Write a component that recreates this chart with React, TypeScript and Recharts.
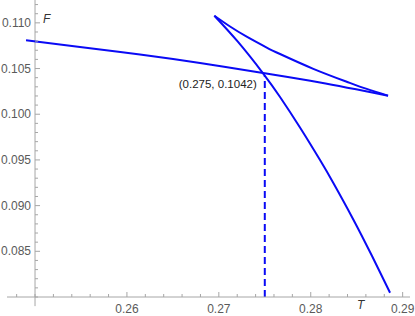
import { LineChart, Line, XAxis, YAxis, ReferenceLine } from 'recharts';

// small-black-hole branch
const T_SMALL = [0.24902, 0.25489, 0.26142, 0.26795, 0.27481, 0.28101, 0.28841];
const F_SMALL = [0.10809, 0.10736, 0.10654, 0.10561, 0.10451, 0.10347, 0.10203];

// intermediate branch (between the two cusps)
const T_MID = [0.26951, 0.27122, 0.27303, 0.27521, 0.27666, 0.28028, 0.28391, 0.28609, 0.28841];
const F_MID = [0.11078, 0.1096, 0.10849, 0.1073, 0.10659, 0.10497, 0.10356, 0.10277, 0.10203];

// large-black-hole branch
const T_LARGE = [0.26951, 0.27209, 0.27481, 0.27666, 0.27883, 0.28101, 0.28246, 0.28463, 0.28667, 0.28863];
const F_LARGE = [0.11078, 0.10791, 0.10448, 0.10189, 0.09855, 0.09499, 0.09248, 0.08849, 0.08448, 0.08047];

const T_CROSS = 0.275;
const F_CROSS = 0.1042;

const X_MAJOR = [0.26, 0.27, 0.28, 0.29];
const Y_MAJOR = [0.085, 0.09, 0.095, 0.1, 0.105, 0.11];

const X_DOMAIN: [number, number] = [0.24695, 0.2908];
const Y_DOMAIN: [number, number] = [0.08, 0.1125];
const X_ORIGIN = 0.25; // where the vertical axis crosses
const Y_BOTTOM = 0.079;

const toRows = (ts: number[], fs: number[]) => ts.map((T, i) => ({ T, F: fs[i] }));
const smallData = toRows(T_SMALL, F_SMALL);
const midData = toRows(T_MID, F_MID);
const largeData = toRows(T_LARGE, F_LARGE);

const xTicks: number[] = [];
for (let i = 124; i <= 145; i++) xTicks.push(+(i * 0.002).toFixed(3));
const yTicks: number[] = [];
for (let i = 80; i <= 112; i++) yTicks.push(+(i * 0.001).toFixed(3));

const W = 415;
const H = 316;
const MARGIN = { top: 0, right: 5, bottom: 0, left: 6 };
const Y_AXIS_W = 1;
const X_AXIS_H = 19;
const plotLeft = MARGIN.left + Y_AXIS_W;
const plotW = W - plotLeft - MARGIN.right;
const axisX = plotLeft + ((X_ORIGIN - X_DOMAIN[0]) / (X_DOMAIN[1] - X_DOMAIN[0])) * plotW;

const AXIS = '#a6a6a6';
const TICK_TEXT = '#5a5a5a';
const BLUE = '#0a0af5';
const FONT = '"Liberation Sans", Arial, sans-serif';

const isMajor = (v: number, list: number[]) => list.some((m) => Math.abs(m - v) < 1e-6);

const XTick = (props: any) => {
  const { x, y, payload } = props;
  const major = isMajor(payload.value, X_MAJOR);
  return (
    <g>
      <line x1={x} x2={x} y1={y} y2={y - (major ? 5 : 3)} stroke={AXIS} strokeWidth={1} />
      {major && (
        <text x={x} y={y + 16} textAnchor="middle" fill={TICK_TEXT} fontSize={12} fontFamily={FONT}>
          {payload.value.toFixed(2)}
        </text>
      )}
    </g>
  );
};

const YTick = (props: any) => {
  const { y, payload } = props;
  const major = isMajor(payload.value, Y_MAJOR);
  return (
    <g>
      <line x1={axisX} x2={axisX + (major ? 5 : 3)} y1={y} y2={y} stroke={AXIS} strokeWidth={1} />
      {major && (
        <text x={axisX - 4} y={y} dy={4} textAnchor="end" fill={TICK_TEXT} fontSize={12} fontFamily={FONT}>
          {payload.value.toFixed(3)}
        </text>
      )}
    </g>
  );
};

const PointLabel = (props: any) => {
  const { viewBox } = props;
  return (
    <text x={viewBox.x - 8} y={viewBox.y + 12} textAnchor="end" fill="#222" fontSize={11.5} fontFamily={FONT}>
      {`(${T_CROSS}, ${F_CROSS})`}
    </text>
  );
};

export default function App() {
  return (
    <div style={{ position: 'absolute', left: 0, top: 0, background: '#fff' }}>
      <LineChart width={W} height={H} margin={MARGIN}>
        <XAxis
          type="number"
          dataKey="T"
          domain={X_DOMAIN}
          allowDataOverflow
          ticks={xTicks}
          interval={0}
          height={X_AXIS_H}
          tickSize={0}
          tickMargin={0}
          tickLine={false}
          axisLine={{ stroke: AXIS }}
          tick={<XTick />}
        />
        <YAxis
          type="number"
          domain={Y_DOMAIN}
          allowDataOverflow
          ticks={yTicks}
          interval={0}
          width={Y_AXIS_W}
          tickSize={0}
          tickMargin={0}
          tickLine={false}
          axisLine={false}
          tick={<YTick />}
        />
        <ReferenceLine
          segment={[{ x: X_ORIGIN, y: Y_BOTTOM }, { x: X_ORIGIN, y: Y_DOMAIN[1] }]}
          stroke={AXIS}
          ifOverflow="visible"
        />
        <ReferenceLine
          segment={[{ x: T_CROSS, y: Y_DOMAIN[0] }, { x: T_CROSS, y: F_CROSS }]}
          stroke={BLUE}
          strokeWidth={2}
          strokeDasharray="7 4"
          ifOverflow="visible"
          label={<PointLabel />}
        />
        <Line data={smallData} dataKey="F" type="natural" stroke={BLUE} strokeWidth={2} dot={false} isAnimationActive={false} />
        <Line data={midData} dataKey="F" type="natural" stroke={BLUE} strokeWidth={2} dot={false} isAnimationActive={false} />
        <Line data={largeData} dataKey="F" type="natural" stroke={BLUE} strokeWidth={2} dot={false} isAnimationActive={false} />
        <text x={axisX + 8} y={23} fill="#333" fontSize={12} fontStyle="italic" fontFamily={FONT}>F</text>
        <text x={357} y={309} fill="#333" fontSize={12} fontStyle="italic" fontFamily={FONT}>T</text>
      </LineChart>
    </div>
  );
}
